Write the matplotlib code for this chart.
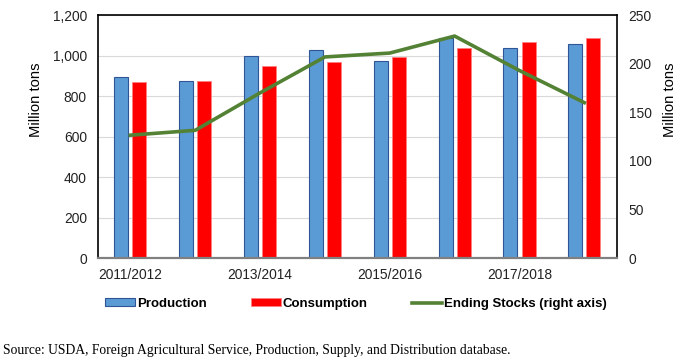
import matplotlib
matplotlib.use("Agg")
import matplotlib.pyplot as plt
import numpy as np

years = ["2011/2012", "2012/2013", "2013/2014", "2014/2015", "2015/2016",
         "2016/2017", "2017/2018", "2018/2019"]
production = [894, 877, 998, 1027, 973, 1086, 1037, 1058]
consumption = [869, 877, 950, 971, 991, 1039, 1065, 1088]
ending_stocks = [126.5, 131.5, 170, 207, 211, 228.5, 193, 160]
tick_labels = ["2011/2012", "", "2013/2014", "", "2015/2016", "", "2017/2018", ""]

plt.rcParams['font.family'] = ['Liberation Sans', 'DejaVu Sans']

fig = plt.figure(figsize=(6.8, 3.61), dpi=100)
ax = fig.add_axes([0.144, 0.285, 0.763, 0.673])
x = np.arange(len(years))
w = 0.215
b1 = ax.bar(x - 0.14, production, w, color="#5B9BD5", edgecolor="#2F5597", linewidth=0.8,
            label="Production", zorder=2)
b2 = ax.bar(x + 0.14, consumption, w, color="#FF0000", edgecolor="#FF8080", linewidth=0.6,
            label="Consumption", zorder=2)
ax.set_ylim(0, 1200)
ax.set_yticks(np.arange(0, 1201, 200))
ax.set_yticklabels([f"{v:,}" for v in range(0, 1201, 200)])
ax.set_xlim(-0.5, 7.5)
ax.set_xticks(x)
ax.set_xticklabels(tick_labels)
ax.grid(axis="y", color="#D9D9D9", linewidth=0.8, zorder=0)
ax.set_axisbelow(True)
ax.tick_params(axis="y", length=0, labelsize=9.9, colors="#222222", pad=8)
ax.tick_params(axis="x", length=0, labelsize=9.9, colors="#222222", pad=7)
ax.set_ylabel("Million tons", fontsize=10.6, labelpad=7)
ax.yaxis.label.set_y(0.65)
for s in ["left", "top", "right"]:
    ax.spines[s].set_color("black")
    ax.spines[s].set_linewidth(1.2)
ax.spines["bottom"].set_color("#808080")
ax.spines["bottom"].set_linewidth(1.6)

ax2 = ax.twinx()
ln, = ax2.plot(x, ending_stocks, color="#548235", linewidth=2.6, label="Ending Stocks (right axis)",
               zorder=3)
ax2.set_ylim(0, 250)
ax2.set_yticks(np.arange(0, 251, 50))
ax2.tick_params(length=0, labelsize=9.9, colors="#222222", pad=8.6)
ax2.set_ylabel("Million tons", fontsize=10.6, labelpad=8)
ax2.yaxis.label.set_y(0.65)
for s in ax2.spines.values():
    s.set_visible(False)

fig.legend([b1, b2, ln], ["Production", "Consumption", "Ending Stocks (right axis)"],
           loc="center", bbox_to_anchor=(0.523, 0.158), ncol=3, frameon=False,
           prop={"weight": "bold", "size": 9.5}, handlelength=2.27, handleheight=0.55,
           columnspacing=3.35, handletextpad=0.15, borderpad=0)

fig.text(0.004, 0.012, "Source: USDA, Foreign Agricultural Service, Production, Supply, and Distribution database.",
         fontsize=9.8, family="Liberation Serif", ha="left", va="bottom")

fig.savefig("out.png", dpi=100)
